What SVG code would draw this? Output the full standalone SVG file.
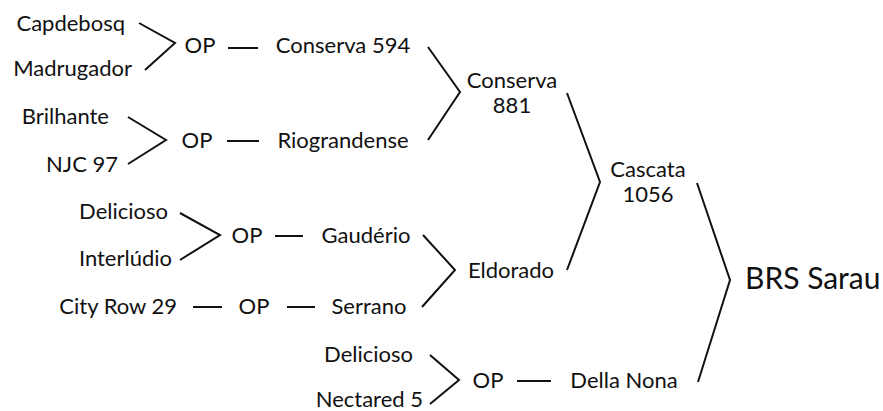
<svg xmlns="http://www.w3.org/2000/svg" width="883" height="411" viewBox="0 0 883 411">
<style>
text{font-family:Lato,"Liberation Sans",sans-serif;font-size:22px;fill:#111}
.e{text-anchor:end}
.m{text-anchor:middle}
.big{font-size:30px}
#connectors path,#connectors line{stroke:#111;stroke-width:2;fill:none}
</style>
<rect width="883" height="411" fill="#fff"/>
<g id="connectors">
<path d="M139,23 L175,43 L145,70"/>
<line x1="228" y1="48" x2="258" y2="48"/>
<path d="M128,117 L166,140 L128,164"/>
<line x1="227" y1="141" x2="259" y2="141"/>
<path d="M428,47 L460,92 L428,140"/>
<path d="M180,213 L220,235 L180,260"/>
<line x1="275" y1="236" x2="303" y2="236"/>
<line x1="193" y1="307" x2="222" y2="307"/>
<line x1="287" y1="307" x2="315" y2="307"/>
<path d="M423,235 L455,270 L422,307"/>
<path d="M567,93 L600,182 L567,270"/>
<path d="M430,355 L459,380 L430,404"/>
<line x1="517" y1="381" x2="551" y2="381"/>
<path d="M697,183 L730,280 L698,382"/>
</g>
<g id="n-capdebosq"><text x="125" y="31" class="e">Capdebosq</text></g>
<g id="n-madrugador"><text x="132" y="76" class="e">Madrugador</text></g>
<g id="n-op1"><text x="200" y="53" class="m">OP</text></g>
<g id="n-conserva594"><text x="343" y="53" class="m">Conserva 594</text></g>
<g id="n-brilhante"><text x="109" y="124" class="e">Brilhante</text></g>
<g id="n-njc97"><text x="118" y="172" class="e">NJC 97</text></g>
<g id="n-op2"><text x="197" y="148" class="m">OP</text></g>
<g id="n-riograndense"><text x="343" y="148" class="m">Riograndense</text></g>
<g id="n-conserva881"><text x="512" y="88" class="m">Conserva</text><text x="512" y="113" class="m">881</text></g>
<g id="n-delicioso1"><text x="168" y="219" class="e">Delicioso</text></g>
<g id="n-interludio"><text x="172" y="266" class="e">Interlúdio</text></g>
<g id="n-op3"><text x="247" y="243" class="m">OP</text></g>
<g id="n-gauderio"><text x="366" y="243" class="m">Gaudério</text></g>
<g id="n-cityrow29"><text x="177" y="314" class="e">City Row 29</text></g>
<g id="n-op4"><text x="254" y="314" class="m">OP</text></g>
<g id="n-serrano"><text x="369" y="314" class="m">Serrano</text></g>
<g id="n-eldorado"><text x="511" y="278" class="m">Eldorado</text></g>
<g id="n-cascata1056"><text x="648" y="177" class="m">Cascata</text><text x="648" y="202" class="m">1056</text></g>
<g id="n-delicioso2"><text x="413" y="362" class="e">Delicioso</text></g>
<g id="n-nectared5"><text x="423" y="407" class="e">Nectared 5</text></g>
<g id="n-op5"><text x="488" y="388" class="m">OP</text></g>
<g id="n-dellanona"><text x="624" y="388" class="m">Della Nona</text></g>
<g id="n-brssarau"><text x="745" y="289" class="big">BRS Sarau</text></g>
</svg>
